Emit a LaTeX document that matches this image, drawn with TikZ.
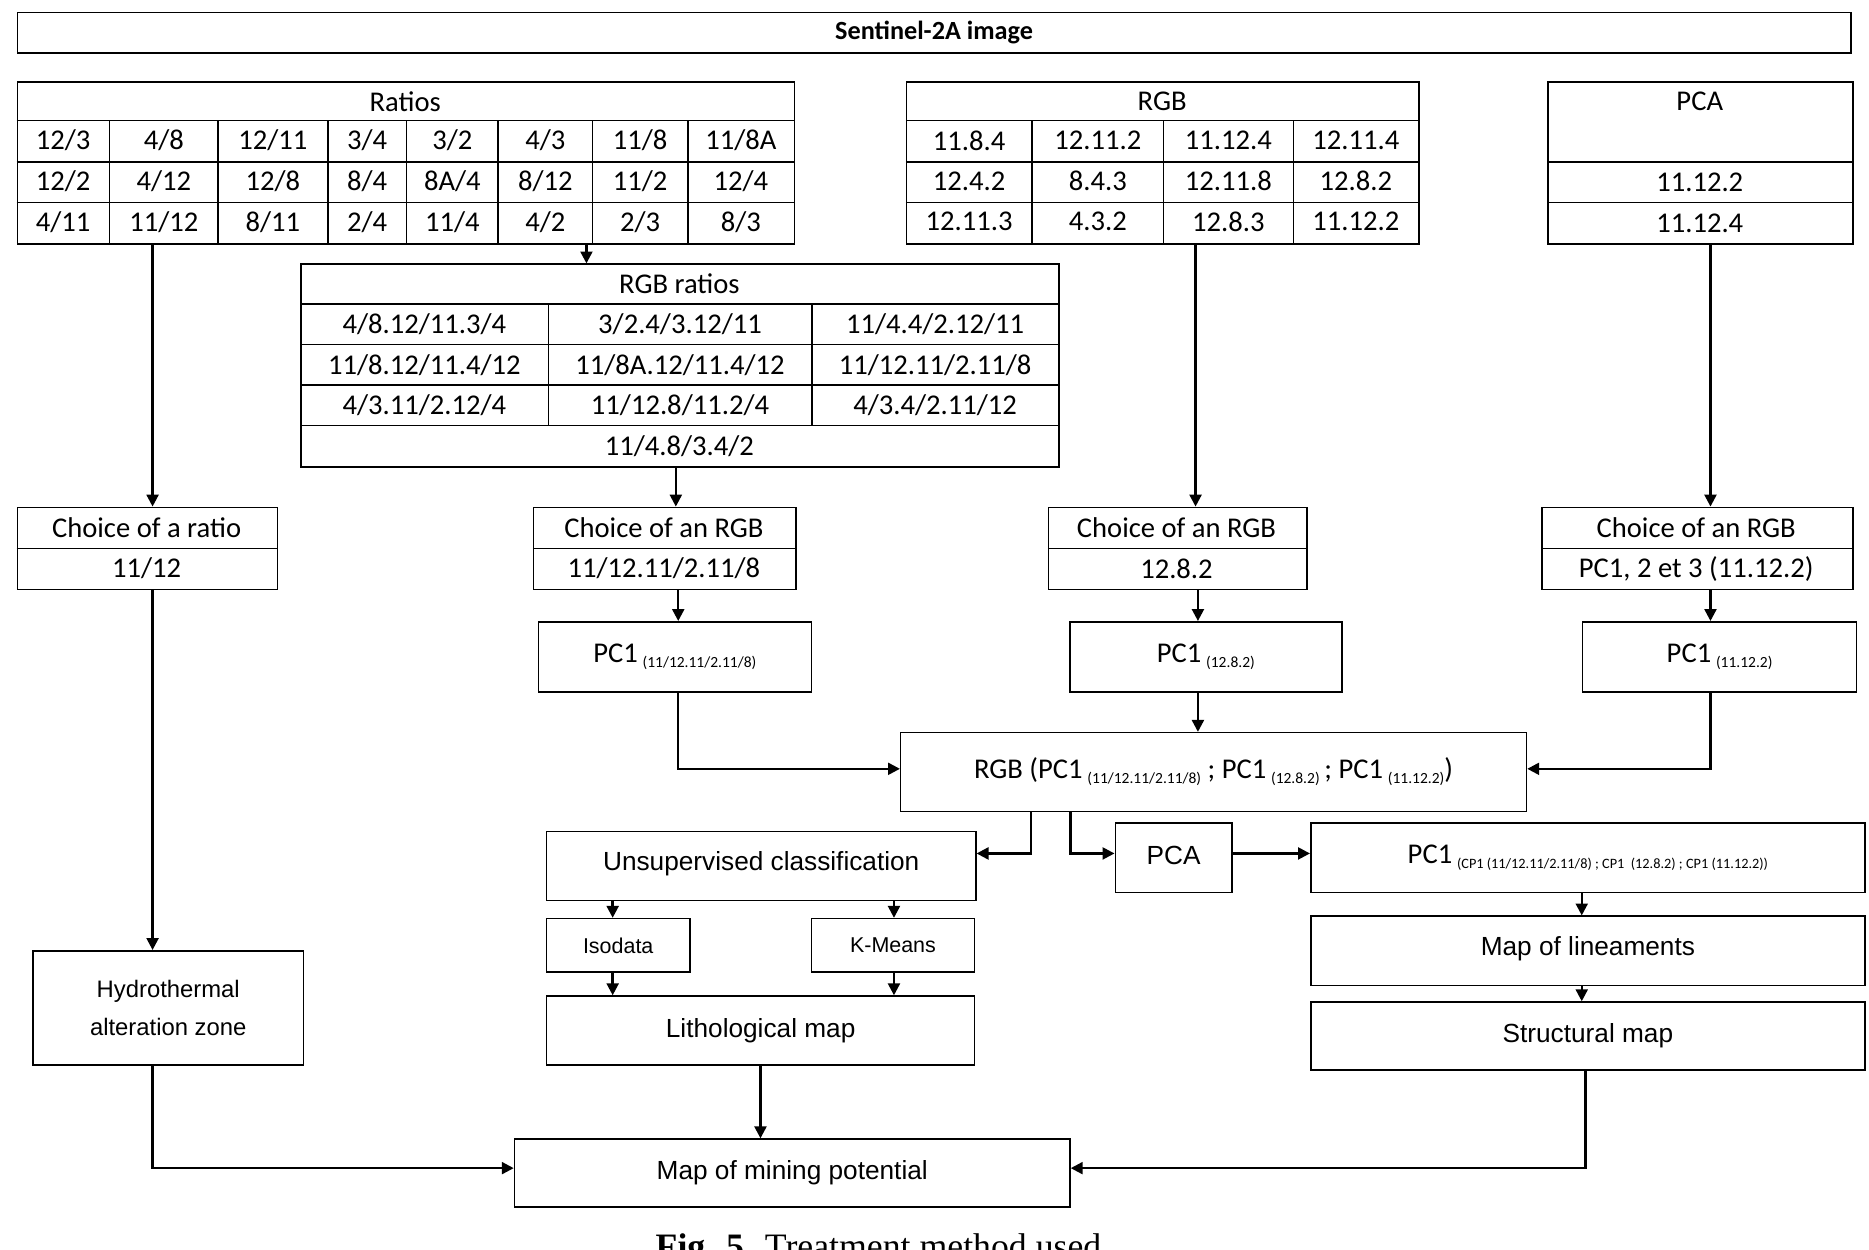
\documentclass[tikz,border=0pt]{standalone}
\usepackage{fontspec}
\setmainfont{Carlito}
\newfontfamily\arialf{Liberation Sans}
\newfontfamily\timesf{Liberation Serif}
\usetikzlibrary{arrows.meta}
\begin{document}
\begin{tikzpicture}[x=1pt,y=-1pt,
  box/.style={draw,line width=1.3pt,anchor=north west,inner sep=0pt,font=\fontsize{24}{28}\selectfont},
  arr/.style={line width=2pt,-{Triangle[length=10pt,width=10pt]}},
  t/.style={font=\fontsize{24}{28}\selectfont,inner sep=0pt},
  a/.style={font=\arialf\fontsize{22}{26}\selectfont,inner sep=0pt},
  ln/.style={line width=1.3pt}]
\useasboundingbox (0,0) rectangle (1568,1048);
\clip (0,0) rectangle (1568,1048);
\fill[white] (0,0) rectangle (1568,1048);
% top
\node[box,minimum width=1538pt,minimum height=34pt] (top) at (14,10) {};
\node[t,font=\bfseries\fontsize{22}{26}\selectfont] at (top.center) {Sentinel-2A image};
% Ratios table
\node[box,minimum width=652pt,minimum height=136pt] (ratios) at (14,68) {};
\draw[ln] (14,101)--(666,101) (14,136)--(666,136) (14,170)--(666,170);
\foreach \x in {92,183,275,341,418,497,577}{\draw[ln] (\x,101)--(\x,204);}
\node[t] at (340,85) {Ratios};
\foreach \r [count=\j] in {{12/3,4/8,12/11,3/4,3/2,4/3,11/8,11/8A},{12/2,4/12,12/8,8/4,8A/4,8/12,11/2,12/4},{4/11,11/12,8/11,2/4,11/4,4/2,2/3,8/3}}{
  \foreach \c [count=\i] in \r {
    \pgfmathsetmacro\xl{{14,92,183,275,341,418,497,577}[\i-1]}
    \pgfmathsetmacro\xr{{92,183,275,341,418,497,577,666}[\i-1]}
    \node[t] at ({(\xl+\xr)/2},{101+34*(\j-1)+17}) {\c};
  }}
% RGB table
\node[box,minimum width=430pt,minimum height=136pt] (rgb) at (760,68) {};
\draw[ln] (760,101)--(1190,101) (760,136)--(1190,136) (760,170)--(1190,170);
\foreach \x in {866,976,1085}{\draw[ln] (\x,101)--(\x,204);}
\node[t] at (975,85) {RGB};
\foreach \r [count=\j] in {{11.8.4,12.11.2,11.12.4,12.11.4},{12.4.2,8.4.3,12.11.8,12.8.2},{12.11.3,4.3.2,12.8.3,11.12.2}}{
  \foreach \c [count=\i] in \r {
    \pgfmathsetmacro\xl{{760,866,976,1085}[\i-1]}
    \pgfmathsetmacro\xr{{866,976,1085,1190}[\i-1]}
    \node[t] at ({(\xl+\xr)/2},{101+34*(\j-1)+17}) {\c};
  }}
% PCA table
\node[box,minimum width=256pt,minimum height=136pt] (pca) at (1298,68) {};
\draw[ln] (1298,136)--(1554,136) (1298,170)--(1554,170);
\node[t] at (1426,85) {PCA};
\node[t] at (1426,153) {11.12.2};
\node[t] at (1426,187) {11.12.4};
% RGB ratios
\node[box,minimum width=636pt,minimum height=170pt] (rr) at (252,221) {};
\draw[ln] (252,255)--(888,255) (252,289)--(888,289) (252,323)--(888,323) (252,357)--(888,357);
\foreach \x in {460,681}{\draw[ln] (\x,255)--(\x,357);}
\node[t] at (570,238) {RGB ratios};
\foreach \r [count=\j] in {{4/8.12/11.3/4,3/2.4/3.12/11,11/4.4/2.12/11},{11/8.12/11.4/12,11/8A.12/11.4/12,11/12.11/2.11/8},{4/3.11/2.12/4,11/12.8/11.2/4,4/3.4/2.11/12}}{
  \foreach \c [count=\i] in \r {
    \pgfmathsetmacro\xl{{252,460,681}[\i-1]}
    \pgfmathsetmacro\xr{{460,681,888}[\i-1]}
    \node[t] at ({(\xl+\xr)/2},{255+34*(\j-1)+17}) {\c};
  }}
\node[t] at (570,374) {11/4.8/3.4/2};
% choices
\node[box,minimum width=218pt,minimum height=69pt] (ch1) at (14,425) {};
\draw[ln] (14,460)--(232,460);
\node[t] at (123,443) {Choice of a ratio}; \node[t] at (123,477) {11/12};
\node[box,minimum width=220pt,minimum height=69pt] (ch2) at (447,425) {};
\draw[ln] (447,460)--(667,460);
\node[t] at (557,443) {Choice of an RGB}; \node[t] at (557,477) {11/12.11/2.11/8};
\node[box,minimum width=217pt,minimum height=69pt] (ch3) at (879,425) {};
\draw[ln] (879,460)--(1096,460);
\node[t] at (987,443) {Choice of an RGB}; \node[t] at (987,477) {12.8.2};
\node[box,minimum width=261pt,minimum height=69pt] (ch4) at (1293,425) {};
\draw[ln] (1293,460)--(1554,460);
\node[t] at (1423,443) {Choice of an RGB}; \node[t] at (1423,477) {PC1, 2 et 3 (11.12.2)};
% PC1 boxes
\newcommand\subl[1]{\,{\fontsize{13}{15}\selectfont(#1)}}
\node[box,minimum width=229pt,minimum height=59pt] (p1) at (451,521) {\raisebox{5pt}{PC1\raisebox{-4pt}{\subl{11/12.11/2.11/8}}}};
\node[box,minimum width=228pt,minimum height=59pt] (p2) at (897,521) {\raisebox{5pt}{PC1\raisebox{-4pt}{\subl{12.8.2}}}};
\node[box,minimum width=230pt,minimum height=59pt] (p3) at (1327,521) {\raisebox{5pt}{PC1\raisebox{-4pt}{\subl{11.12.2}}}};
\node[box,minimum width=525pt,minimum height=66pt] (rgbpc) at (755,614) {RGB (PC1\raisebox{-4pt}{\subl{11/12.11/2.11/8}}\ ; PC1\raisebox{-4pt}{\subl{12.8.2}}\,; PC1\raisebox{-4pt}{\subl{11.12.2}})};
% lower
\node[box,a,minimum width=360pt,minimum height=58pt] (uns) at (458,697) {\raisebox{8pt}{Unsupervised classification}};
\node[box,a,minimum width=98pt,minimum height=58pt] (pcab) at (935,690) {\raisebox{4pt}{PCA}};
\node[box,minimum width=465pt,minimum height=58pt] (pcf) at (1099,690) {\raisebox{3pt}{PC1\raisebox{-4pt}{\,{\fontsize{12}{14}\selectfont(CP1 (11/12.11/2.11/8) ; CP1 \ (12.8.2) ; CP1 (11.12.2))}}}};
\node[box,a,font=\arialf\fontsize{18}{22}\selectfont,minimum width=120pt,minimum height=45pt] (iso) at (458,770) {Isodata};
\node[box,a,font=\arialf\fontsize{18}{22}\selectfont,minimum width=137pt,minimum height=45pt] (km) at (680,770) {K-Means};
\node[box,a,minimum width=359pt,minimum height=58pt] (lith) at (458,835) {\raisebox{4pt}{Lithological map}};
\node[box,a,minimum width=465pt,minimum height=58pt] (lin) at (1099,768) {\raisebox{8pt}{Map of lineaments}};
\node[box,a,minimum width=465pt,minimum height=57pt] (str) at (1099,840) {Structural map};
\node[box,a,font=\arialf\fontsize{20}{24}\selectfont,align=center,minimum width=227pt,minimum height=96pt] (hyd) at (27,797) {Hydrothermal\\[8pt]alteration zone};
\node[box,a,minimum width=466pt,minimum height=57pt] (mine) at (431,955) {Map of mining potential};
\node[font=\timesf\fontsize{30}{34}\selectfont,inner sep=0pt,anchor=base] (cap) at (737,1056) {\textbf{Fig. 5.} Treatment method used};
% arrows
\draw[arr] (128,0 |- ratios.south) -- (128,0 |- ch1.north);
\draw[arr] (492,0 |- ratios.south) -- (492,0 |- rr.north);
\draw[arr] (567,0 |- rr.south) -- (567,0 |- ch2.north);
\draw[arr] (1003,0 |- rgb.south) -- (1003,0 |- ch3.north);
\draw[arr] (1435,0 |- pca.south) -- (1435,0 |- ch4.north);
\draw[arr] (569,0 |- ch2.south) -- (569,0 |- p1.north);
\draw[arr] (1005,0 |- ch3.south) -- (1005,0 |- p2.north);
\draw[arr] (1435,0 |- ch4.south) -- (1435,0 |- p3.north);
\draw[arr] (569,0 |- p1.south) -- (569,645) -- (rgbpc.west |- 0,645);
\draw[arr] (1005,0 |- p2.south) -- (1005,0 |- rgbpc.north);
\draw[arr] (1435,0 |- p3.south) -- (1435,645) -- (rgbpc.east |- 0,645);
\draw[arr] (865,0 |- rgbpc.south) -- (865,716) -- (uns.east |- 0,716);
\draw[arr] (898,0 |- rgbpc.south) -- (898,716) -- (pcab.west |- 0,716);
\draw[arr] (pcab.east |- 0,716) -- (pcf.west |- 0,716);
\draw[arr] (514,0 |- uns.south) -- (514,0 |- iso.north);
\draw[arr] (750,0 |- uns.south) -- (750,0 |- km.north);
\draw[arr] (514,0 |- iso.south) -- (514,0 |- lith.north);
\draw[arr] (750,0 |- km.south) -- (750,0 |- lith.north);
\draw[arr] (1327,0 |- pcf.south) -- (1327,0 |- lin.north);
\draw[arr] (1327,0 |- lin.south) -- (1327,0 |- str.north);
\draw[arr] (128,0 |- ch1.south) -- (128,0 |- hyd.north);
\draw[arr] (128,0 |- hyd.south) -- (128,980) -- (mine.west |- 0,980);
\draw[arr] (638,0 |- lith.south) -- (638,0 |- mine.north);
\draw[arr] (1330,0 |- str.south) -- (1330,980) -- (mine.east |- 0,980);
\end{tikzpicture}
\end{document}
